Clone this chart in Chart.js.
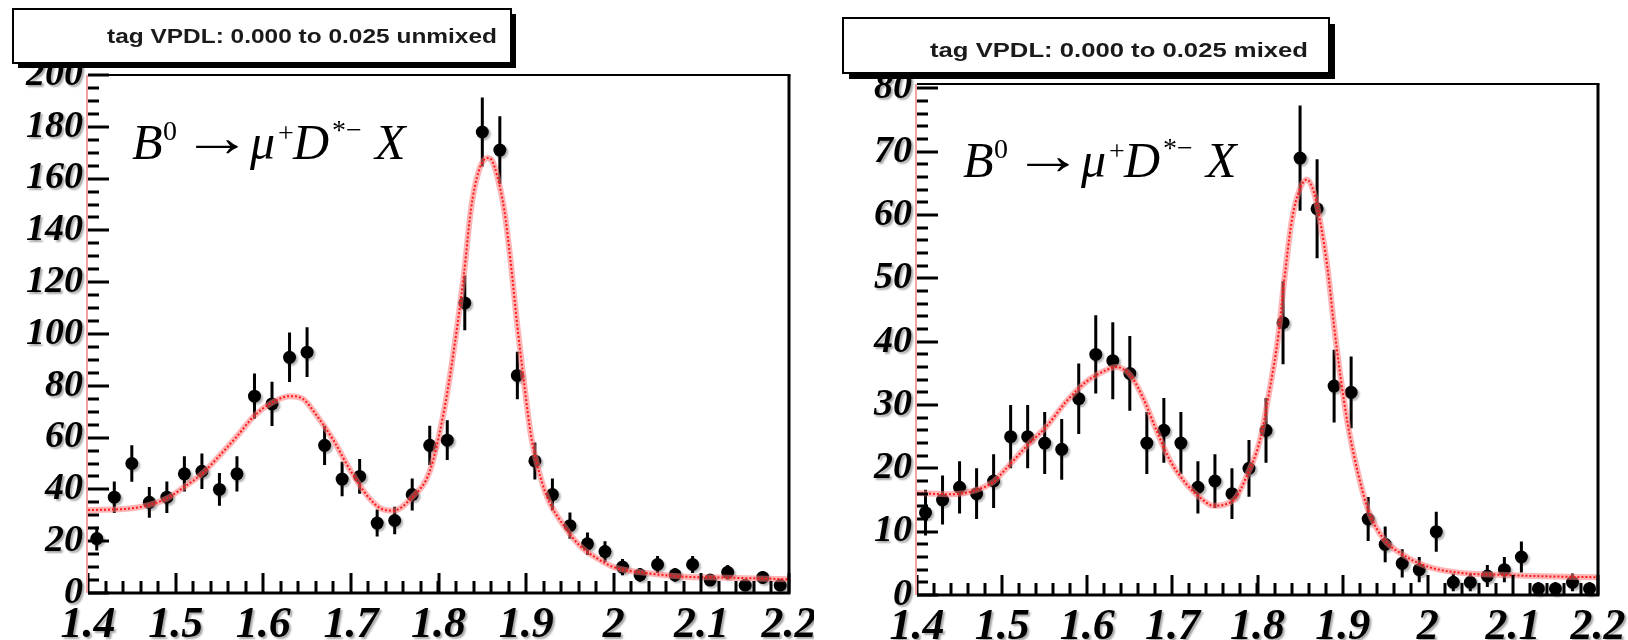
<!DOCTYPE html>
<html>
<head>
<meta charset="utf-8">
<script src="https://cdn.jsdelivr.net/npm/chart.js@4.4.0/dist/chart.umd.min.js"></script>
<style>
  html, body { margin: 0; padding: 0; background: #fff; }
  #wrap { position: relative; width: 1628px; height: 640px; overflow: hidden; }
  .panel { position: absolute; top: 0; width: 814px; height: 640px; }
  #left { left: 0; }
  #right { left: 814px; }
</style>
</head>
<body>
<div id="wrap">
  <div class="panel" id="left"><canvas id="chartUnmixed" width="814" height="640"></canvas></div>
  <div class="panel" id="right"><canvas id="chartMixed" width="814" height="640"></canvas></div>
</div>
<script>
// bin centres (GeV), 0.02 wide bins
const binCenters = [1.41, 1.43, 1.45, 1.47, 1.49, 1.51, 1.53, 1.55, 1.57, 1.59,
  1.61, 1.63, 1.65, 1.67, 1.69, 1.71, 1.73, 1.75, 1.77, 1.79,
  1.81, 1.83, 1.85, 1.87, 1.89, 1.91, 1.93, 1.95, 1.97, 1.99,
  2.01, 2.03, 2.05, 2.07, 2.09, 2.11, 2.13, 2.15, 2.17, 2.19];

const unmixedCounts = [21, 37, 50, 35, 37, 46, 47, 40, 46, 76,
  73, 91, 93, 57, 44, 45, 27, 28, 38, 57,
  59, 112, 178, 171, 84, 51, 38, 26, 19, 16,
  10, 7, 11, 7, 11, 5, 8, 3, 6, 3];

const mixedCounts = [13, 15, 17, 16, 18, 25, 25, 24, 23, 31,
  38, 37, 35, 24, 26, 24, 17, 18, 16, 20,
  26, 43, 69, 61, 33, 32, 12, 8, 5, 4,
  10, 2, 2, 3, 4, 6, 1, 1, 2, 1];

// fit curves
const unmixedFitX = [1.40, 1.45, 1.47, 1.49, 1.51, 1.53, 1.55, 1.57, 1.59, 1.61,
  1.63, 1.645, 1.66, 1.68, 1.70, 1.72, 1.735, 1.748, 1.77, 1.79,
  1.805, 1.815, 1.829, 1.837, 1.846, 1.856, 1.861, 1.867, 1.875, 1.882,
  1.890, 1.897, 1.905, 1.913, 1.924, 1.943, 1.962, 1.981, 2.00, 2.04,
  2.08, 2.12, 2.20];
const unmixedFitY = [32, 32.7, 34, 36.5, 41, 46, 53, 60.5, 68.5, 73.5,
  76, 75, 69, 59, 47, 37, 32.5, 31.8, 37, 47,
  68, 88, 123, 148, 163, 168, 167, 161, 148, 129,
  103, 83, 62, 49, 37, 26, 18, 13.4, 10, 7.6,
  6.3, 6, 5.3];

const mixedFitX = [1.40, 1.44, 1.47, 1.49, 1.505, 1.528, 1.552, 1.575, 1.599, 1.622,
  1.634, 1.65, 1.665, 1.681, 1.697, 1.716, 1.736, 1.748, 1.772, 1.787,
  1.803, 1.815, 1.8245, 1.8306, 1.8404, 1.85, 1.858, 1.866, 1.874, 1.882,
  1.89, 1.898, 1.906, 1.918, 1.93, 1.949, 1.968, 1.988, 2.007, 2.046,
  2.085, 2.124, 2.20];
const mixedFitY = [16.1, 15.9, 16.6, 17.9, 20, 23.4, 26.6, 30.5, 33.7, 35.5,
  36, 34.8, 31.3, 26.1, 21.3, 17.6, 15, 14.1, 15, 18.7,
  24.5, 33, 41, 48.7, 59.2, 64.2, 65.6, 63.7, 58.7, 51.9,
  42.4, 34, 27, 19.3, 13.4, 8.7, 6.6, 5.1, 4.2, 3.4,
  3.2, 3, 2.8];

const xTicks = [1.4, 1.5, 1.6, 1.7, 1.8, 1.9, 2.0, 2.1, 2.2];
const xTickLabels = ['1.4', '1.5', '1.6', '1.7', '1.8', '1.9', '2', '2.1', '2.2'];
const unmixedYTicks = [0, 20, 40, 60, 80, 100, 120, 140, 160, 180, 200];
const mixedYTicks = [0, 10, 20, 30, 40, 50, 60, 70, 80];

const serif = '"Liberation Serif", "Times New Roman", serif';
const tickFont = { family: serif, style: 'italic', weight: 'bold' };

// grey ghost behind the axis labels, like the scanned original
const labelShadowPlugin = {
  id: 'labelShadow',
  beforeDraw(chart) {
    const ctx = chart.ctx;
    ctx.save();
    ctx.shadowColor = 'rgba(0, 0, 0, 0.35)';
    ctx.shadowOffsetX = 2;
    ctx.shadowOffsetY = 2;
    ctx.shadowBlur = 2;
  },
  beforeDatasetsDraw(chart) {
    chart.ctx.restore();
  }
};

// vertical error bars, drawn under the markers
const errorBarPlugin = {
  id: 'errorBars',
  beforeDatasetsDraw(chart) {
    const { ctx, scales: { x, y } } = chart;
    ctx.save();
    ctx.strokeStyle = '#000';
    ctx.lineWidth = 3;
    ctx.beginPath();
    chart.data.datasets.forEach(ds => {
      if (!ds.errors) return;
      ds.data.forEach((p, i) => {
        const px = x.getPixelForValue(p.x);
        ctx.moveTo(px, y.getPixelForValue(p.y - ds.errors[i]));
        ctx.lineTo(px, y.getPixelForValue(p.y + ds.errors[i]));
      });
    });
    ctx.stroke();
    ctx.restore();
  },
  beforeDatasetDraw(chart, args) {
    if (!chart.data.datasets[args.index].errors) return;
    const ctx = chart.ctx;
    ctx.save();
    ctx.shadowColor = 'rgba(0, 0, 0, 0.3)';
    ctx.shadowOffsetX = 2;
    ctx.shadowOffsetY = 2;
    ctx.shadowBlur = 2;
  },
  afterDatasetDraw(chart, args) {
    if (!chart.data.datasets[args.index].errors) return;
    chart.ctx.restore();
  }
};

// ROOT style frame with inward ticks
const framePlugin = {
  id: 'frame',
  afterDatasetsDraw(chart, args, opts) {
    const { ctx, chartArea: a, scales: { x, y } } = chart;
    ctx.save();
    ctx.strokeStyle = '#000';
    ctx.lineWidth = 3;
    ctx.beginPath();
    y.ticks.forEach(t => {
      const py = Math.round(y.getPixelForValue(t.value));
      ctx.moveTo(a.left, py); ctx.lineTo(a.left + 21, py);
    });
    for (let v = 0; v < y.max; v += opts.minorY) {
      const py = Math.round(y.getPixelForValue(v));
      ctx.moveTo(a.left, py); ctx.lineTo(a.left + 11, py);
    }
    x.ticks.forEach(t => {
      const px = Math.round(x.getPixelForValue(t.value));
      ctx.moveTo(px, a.bottom); ctx.lineTo(px, a.bottom - 20);
    });
    for (let k = 0; k <= 40; k++) {
      const px = Math.round(x.getPixelForValue(1.4 + k * 0.02));
      ctx.moveTo(px, a.bottom); ctx.lineTo(px, a.bottom - 12);
    }
    ctx.stroke();

    ctx.beginPath();
    ctx.moveTo(a.left, a.bottom); ctx.lineTo(a.right + 1.5, a.bottom);
    ctx.moveTo(a.right, a.bottom); ctx.lineTo(a.right, a.top);
    ctx.stroke();
    ctx.lineWidth = 2;
    ctx.beginPath();
    ctx.moveTo(a.left, a.top); ctx.lineTo(a.right + 1.5, a.top);
    ctx.stroke();
    ctx.strokeStyle = '#f2a0a0';
    ctx.lineWidth = 2;
    ctx.beginPath();
    ctx.moveTo(a.left - 1, a.top); ctx.lineTo(a.left - 1, a.bottom);
    ctx.stroke();
    ctx.restore();
  }
};

// title pave with shadow, and the decay label
const labelPlugin = {
  id: 'labels',
  afterDraw(chart, args, o) {
    const ctx = chart.ctx;
    const b = o.box;
    ctx.save();
    ctx.fillStyle = '#000';
    ctx.fillRect(b.x + b.shadow, b.y + b.shadow, b.w, b.h);
    ctx.fillStyle = '#fff';
    ctx.fillRect(b.x, b.y, b.w, b.h);
    ctx.strokeStyle = '#000';
    ctx.lineWidth = 2;
    ctx.strokeRect(b.x, b.y, b.w, b.h);

    ctx.font = 'bold 21px "Liberation Sans", Arial, sans-serif';
    ctx.fillStyle = '#1a1a1a';
    ctx.textBaseline = 'alphabetic';
    const sx = o.textWidth / ctx.measureText(o.text).width;
    ctx.translate(o.textRight - o.textWidth, o.textBase);
    ctx.scale(sx, 1);
    ctx.fillText(o.text, 0, 0);
    ctx.restore();

    // B0 -> mu+ D*- X
    const f = o.formula;
    ctx.save();
    ctx.fillStyle = '#000';
    ctx.textBaseline = 'alphabetic';
    const big = 'italic 50px ' + serif;
    const sup = '28px ' + serif;
    const parts = [
      [big, 'B', 0, 0], [sup, '0', 31, -19],
      [big, '\u03BC', 118, 0], [sup, '+', 146, -17], [big, 'D', 161, 0],
      [sup, '*', 200, -20], [sup, '\u2212', 214, -20], [big, 'X', 243, 0]
    ];
    parts.forEach(p => {
      ctx.font = p[0];
      ctx.fillText(p[1], f.x + p[2], f.y + p[3]);
    });
    // long thin arrow: glyph ink stretched to the width seen in the original
    ctx.font = '48px ' + serif;
    const m = ctx.measureText('\u2192');
    const ink = m.actualBoundingBoxLeft + m.actualBoundingBoxRight;
    const mid = (m.actualBoundingBoxAscent - m.actualBoundingBoxDescent) / 2;
    const k = 44 / ink;
    ctx.translate(f.x + 63, f.y - 12);
    ctx.scale(k, 1.15);
    ctx.fillText('\u2192', m.actualBoundingBoxLeft, mid);
    ctx.restore();
  }
};

function buildPanel(id, cfg) {
  const points = binCenters.map((x, i) => ({ x: x, y: cfg.counts[i] }));
  const fit = cfg.fitX.map((x, i) => ({ x: x, y: cfg.fitY[i] }));
  return new Chart(document.getElementById(id), {
    type: 'scatter',
    data: {
      datasets: [
        {
          type: 'line', label: 'fit', data: fit,
          borderColor: '#ff1a1a', borderWidth: 2, borderDash: [2, 2],
          pointRadius: 0, cubicInterpolationMode: 'monotone', order: 1
        },
        {
          type: 'line', label: 'fit band', data: fit,
          borderColor: 'rgba(255, 120, 120, 0.55)', borderWidth: 6,
          pointRadius: 0, cubicInterpolationMode: 'monotone', order: 2
        },
        {
          label: 'data', data: points, errors: cfg.counts.map(Math.sqrt),
          backgroundColor: '#000', borderColor: '#000', borderWidth: 0,
          pointRadius: 6.5, clip: false, order: 3
        }
      ]
    },
    options: {
      animation: false,
      responsive: false,
      devicePixelRatio: 1,
      events: [],
      layout: { padding: { left: 0, top: cfg.top, right: cfg.right, bottom: 0 } },
      plugins: {
        legend: { display: false },
        tooltip: { enabled: false },
        frame: { minorY: cfg.minorY },
        labels: cfg.labels
      },
      scales: {
        x: {
          type: 'linear', min: 1.4, max: 2.2,
          afterBuildTicks: s => { s.ticks = xTicks.map(v => ({ value: v })); },
          ticks: {
            autoSkip: false, maxRotation: 0, minRotation: 0, padding: 6, color: '#000',
            font: Object.assign({ size: 44 }, tickFont),
            callback: (v, i) => xTickLabels[i]
          },
          grid: { display: false, drawTicks: false },
          border: { display: false },
          afterFit: s => { s.height = 640 - cfg.bottom; s.paddingLeft = 0; s.paddingRight = 0; }
        },
        y: {
          type: 'linear', min: 0, max: cfg.yMax,
          afterBuildTicks: s => { s.ticks = cfg.yTicks.map(v => ({ value: v })); },
          ticks: {
            padding: 5, color: '#000',
            font: Object.assign({ size: 38 }, tickFont),
            callback: (v, i) => String(cfg.yTicks[i])
          },
          grid: { display: false, drawTicks: false },
          border: { display: false },
          afterFit: s => { s.width = cfg.left; s.paddingTop = 0; s.paddingBottom = 0; }
        }
      }
    },
    plugins: [labelShadowPlugin, errorBarPlugin, framePlugin, labelPlugin]
  });
}

buildPanel('chartUnmixed', {
  counts: unmixedCounts, fitX: unmixedFitX, fitY: unmixedFitY,
  yTicks: unmixedYTicks, yMax: 200, minorY: 5,
  left: 88, right: 25, top: 75, bottom: 593,
  labels: {
    box: { x: 13, y: 9, w: 498, h: 54, shadow: 5 },
    text: 'tag VPDL: 0.000 to 0.025 unmixed', textRight: 497, textWidth: 390, textBase: 43,
    formula: { x: 132, y: 159 }
  }
});

buildPanel('chartMixed', {
  counts: mixedCounts, fitX: mixedFitX, fitY: mixedFitY,
  yTicks: mixedYTicks, yMax: 80.7, minorY: 2,
  left: 103, right: 30, top: 84, bottom: 595,
  labels: {
    box: { x: 29, y: 18, w: 486, h: 55, shadow: 6 },
    text: 'tag VPDL: 0.000 to 0.025 mixed', textRight: 494, textWidth: 378, textBase: 57,
    formula: { x: 149, y: 177 }
  }
});
</script>
</body>
</html>
